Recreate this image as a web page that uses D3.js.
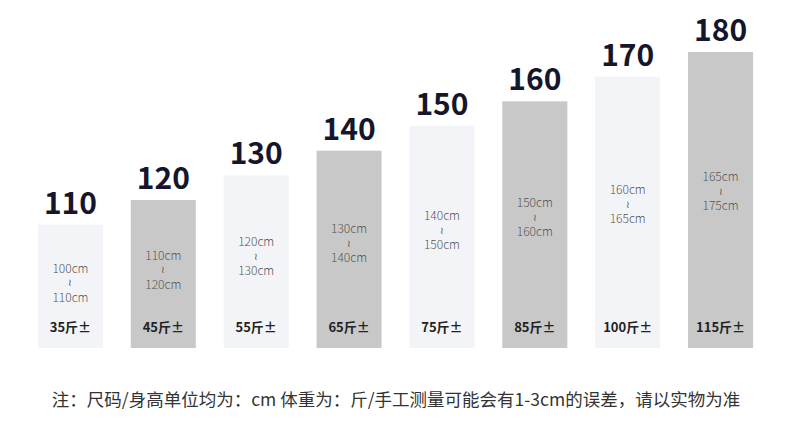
<!doctype html>
<html lang="zh">
<head>
<meta charset="UTF-8" />
<title>尺码表</title>
<script src="https://d3js.org/d3.v7.min.js"></script>
<style>
  html,body{margin:0;padding:0;background:#fff;}
  svg{display:block;font-family:"Noto Sans CJK SC","Noto Sans",sans-serif;}
</style>
</head>
<body>
<div id="chart"></div>
<script>
  /* ── data ── */
  const heights   = [110, 120, 130, 140, 150, 160, 170, 180];
  const rangeLow  = ['100cm','110cm','120cm','130cm','140cm','150cm','160cm','165cm'];
  const rangeHigh = ['110cm','120cm','130cm','140cm','150cm','160cm','165cm','175cm'];
  const weights   = ['35斤±','45斤±','55斤±','65斤±','75斤±','85斤±','100斤±','115斤±'];
  const note = '注：尺码/身高单位均为：cm 体重为：斤/手工测量可能会有1-3cm的误差，请以实物为准';

  /* ── geometry ── */
  const W = 790, H = 431, base = 348;

  const svg = d3.select('#chart').append('svg')
    .attr('width', W).attr('height', H);

  const x = d3.scaleBand()
    .domain(d3.range(heights.length))
    .range([24, 767])
    .paddingInner(0.3)
    .paddingOuter(0.15);

  const y = d3.scaleLinear().domain([60, 180]).range([base, 52]);
  const cx = i => x(i) + x.bandwidth() / 2;

  const g = svg.selectAll('g.bar').data(heights).join('g').attr('class', 'bar');

  g.append('rect')
    .attr('x', (d, i) => x(i))
    .attr('y', d => y(d))
    .attr('width', x.bandwidth())
    .attr('height', d => base - y(d))
    .attr('fill', (d, i) => i % 2 ? '#c8c8c8' : '#f3f4f8');

  // big height number
  g.append('text')
    .attr('x', (d, i) => cx(i))
    .attr('y', d => y(d) - 11)
    .attr('text-anchor', 'middle')
    .attr('font-size', 30)
    .attr('font-weight', 700)
    .attr('fill', '#15152b')
    .text(d => d);

  // height range: low / ≀ / high
  const mid = d => y(d) + (base - y(d)) * 0.47;
  const rangeText = (cls, dy, size, fn) => g.append('text')
    .attr('class', cls)
    .attr('x', (d, i) => cx(i))
    .attr('y', d => mid(d) + dy)
    .attr('text-anchor', 'middle')
    .attr('font-size', size)
    .attr('font-weight', 300)
    .attr('fill', '#555')
    .text(fn);
  rangeText('lo', -10, 12, (d, i) => rangeLow[i]);
  rangeText('tilde', 3.5, 10, () => '≀');
  rangeText('hi', 19, 12, (d, i) => rangeHigh[i]);

  // weight
  g.append('text')
    .attr('x', (d, i) => cx(i))
    .attr('y', base - 16)
    .attr('text-anchor', 'middle')
    .attr('font-size', 13)
    .attr('font-weight', 700)
    .attr('fill', '#222')
    .text((d, i) => weights[i]);

  // footnote
  svg.append('text')
    .attr('x', W / 2 + 1)
    .attr('y', 406)
    .attr('text-anchor', 'middle')
    .attr('font-size', 17.5)
    .attr('fill', '#333')
    .text(note);
</script>
</body>
</html>
